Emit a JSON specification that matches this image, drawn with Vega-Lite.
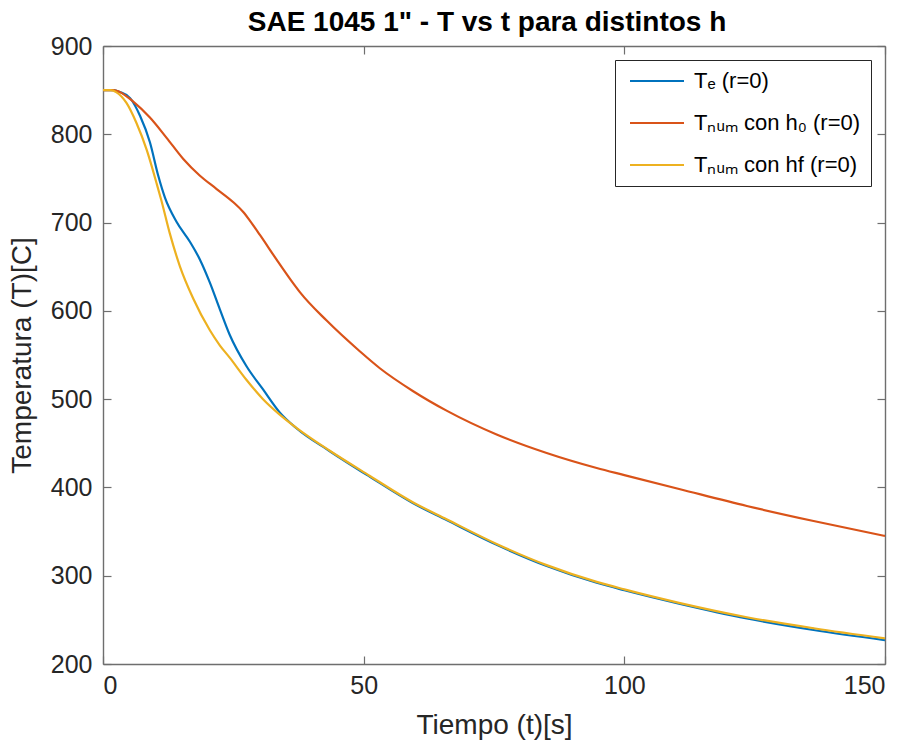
{
  "$schema": "https://vega.github.io/schema/vega-lite/v6.json",
  "width": 782,
  "height": 618,
  "autosize": "none",
  "padding": {"left": 103, "top": 46, "right": 24, "bottom": 83},
  "background": "white",
  "title": {
    "text": "SAE 1045 1\" - T vs t para distintos h",
    "font": "Liberation Sans",
    "fontSize": 28,
    "fontWeight": "bold",
    "color": "#000000",
    "anchor": "middle",
    "offset": -3,
    "dx": -7
  },
  "config": {
    "view": {"stroke": null},
    "axis": {
      "labelFont": "Liberation Sans",
      "titleFont": "Liberation Sans",
      "labelFontSize": 25,
      "titleFontSize": 28,
      "titleFontWeight": "normal",
      "labelColor": "#262626",
      "titleColor": "#262626",
      "domainColor": "#6e6e6e",
      "domainWidth": 1.4,
      "tickColor": "#6e6e6e",
      "tickWidth": 1.2,
      "tickSize": -8,
      "grid": false
    },
    "legend": {
      "labelFont": "Liberation Sans",
      "labelFontSize": 22,
      "labelColor": "#000000"
    }
  },
  "data": {
    "values": [
      {"s": "Tₑ (r=0)", "t": 0, "T": 850},
      {"s": "Tₑ (r=0)", "t": 2, "T": 850},
      {"s": "Tₑ (r=0)", "t": 3.2, "T": 848},
      {"s": "Tₑ (r=0)", "t": 5.2, "T": 841},
      {"s": "Tₑ (r=0)", "t": 7.1, "T": 821},
      {"s": "Tₑ (r=0)", "t": 9.0, "T": 791},
      {"s": "Tₑ (r=0)", "t": 10.6, "T": 753},
      {"s": "Tₑ (r=0)", "t": 11.9, "T": 728},
      {"s": "Tₑ (r=0)", "t": 14.1, "T": 701},
      {"s": "Tₑ (r=0)", "t": 16.7, "T": 678},
      {"s": "Tₑ (r=0)", "t": 18.6, "T": 658},
      {"s": "Tₑ (r=0)", "t": 20.5, "T": 632},
      {"s": "Tₑ (r=0)", "t": 22.4, "T": 602},
      {"s": "Tₑ (r=0)", "t": 24.3, "T": 573},
      {"s": "Tₑ (r=0)", "t": 27.5, "T": 537.5},
      {"s": "Tₑ (r=0)", "t": 30.7, "T": 511},
      {"s": "Tₑ (r=0)", "t": 33.9, "T": 485},
      {"s": "Tₑ (r=0)", "t": 37.1, "T": 467},
      {"s": "Tₑ (r=0)", "t": 43.5, "T": 441},
      {"s": "Tₑ (r=0)", "t": 51.2, "T": 412},
      {"s": "Tₑ (r=0)", "t": 59.5, "T": 382},
      {"s": "Tₑ (r=0)", "t": 65.9, "T": 363},
      {"s": "Tₑ (r=0)", "t": 75.5, "T": 335},
      {"s": "Tₑ (r=0)", "t": 85.1, "T": 311},
      {"s": "Tₑ (r=0)", "t": 94.7, "T": 292},
      {"s": "Tₑ (r=0)", "t": 100, "T": 283.5},
      {"s": "Tₑ (r=0)", "t": 110.7, "T": 268},
      {"s": "Tₑ (r=0)", "t": 123.5, "T": 251.5},
      {"s": "Tₑ (r=0)", "t": 136.3, "T": 238.5},
      {"s": "Tₑ (r=0)", "t": 150, "T": 227},
      {"s": "Tₙᵤₘ con h₀ (r=0)", "t": 0, "T": 850},
      {"s": "Tₙᵤₘ con h₀ (r=0)", "t": 2, "T": 850},
      {"s": "Tₙᵤₘ con h₀ (r=0)", "t": 3.2, "T": 848},
      {"s": "Tₙᵤₘ con h₀ (r=0)", "t": 5.8, "T": 837},
      {"s": "Tₙᵤₘ con h₀ (r=0)", "t": 9.0, "T": 819},
      {"s": "Tₙᵤₘ con h₀ (r=0)", "t": 12.2, "T": 796},
      {"s": "Tₙᵤₘ con h₀ (r=0)", "t": 15.4, "T": 772},
      {"s": "Tₙᵤₘ con h₀ (r=0)", "t": 18.6, "T": 753},
      {"s": "Tₙᵤₘ con h₀ (r=0)", "t": 21.8, "T": 738},
      {"s": "Tₙᵤₘ con h₀ (r=0)", "t": 25.0, "T": 723},
      {"s": "Tₙᵤₘ con h₀ (r=0)", "t": 26.9, "T": 712},
      {"s": "Tₙᵤₘ con h₀ (r=0)", "t": 28.2, "T": 702},
      {"s": "Tₙᵤₘ con h₀ (r=0)", "t": 30.1, "T": 686},
      {"s": "Tₙᵤₘ con h₀ (r=0)", "t": 33.3, "T": 658},
      {"s": "Tₙᵤₘ con h₀ (r=0)", "t": 35.9, "T": 636},
      {"s": "Tₙᵤₘ con h₀ (r=0)", "t": 37.8, "T": 621},
      {"s": "Tₙᵤₘ con h₀ (r=0)", "t": 42.9, "T": 589},
      {"s": "Tₙᵤₘ con h₀ (r=0)", "t": 49.3, "T": 554},
      {"s": "Tₙᵤₘ con h₀ (r=0)", "t": 53.1, "T": 535},
      {"s": "Tₙᵤₘ con h₀ (r=0)", "t": 59.5, "T": 509},
      {"s": "Tₙᵤₘ con h₀ (r=0)", "t": 65.9, "T": 487},
      {"s": "Tₙᵤₘ con h₀ (r=0)", "t": 75.5, "T": 460},
      {"s": "Tₙᵤₘ con h₀ (r=0)", "t": 85.1, "T": 439},
      {"s": "Tₙᵤₘ con h₀ (r=0)", "t": 94.7, "T": 422},
      {"s": "Tₙᵤₘ con h₀ (r=0)", "t": 100, "T": 414},
      {"s": "Tₙᵤₘ con h₀ (r=0)", "t": 110.7, "T": 398},
      {"s": "Tₙᵤₘ con h₀ (r=0)", "t": 123.5, "T": 379},
      {"s": "Tₙᵤₘ con h₀ (r=0)", "t": 136.3, "T": 362},
      {"s": "Tₙᵤₘ con h₀ (r=0)", "t": 150, "T": 345},
      {"s": "Tₙᵤₘ con hf (r=0)", "t": 0, "T": 850},
      {"s": "Tₙᵤₘ con hf (r=0)", "t": 1.5, "T": 850},
      {"s": "Tₙᵤₘ con hf (r=0)", "t": 2.6, "T": 847.5},
      {"s": "Tₙᵤₘ con hf (r=0)", "t": 4.5, "T": 835.5},
      {"s": "Tₙᵤₘ con hf (r=0)", "t": 6.4, "T": 813},
      {"s": "Tₙᵤₘ con hf (r=0)", "t": 8.4, "T": 782},
      {"s": "Tₙᵤₘ con hf (r=0)", "t": 10.3, "T": 744},
      {"s": "Tₙᵤₘ con hf (r=0)", "t": 11.2, "T": 725},
      {"s": "Tₙᵤₘ con hf (r=0)", "t": 12.8, "T": 688},
      {"s": "Tₙᵤₘ con hf (r=0)", "t": 14.75, "T": 650.5},
      {"s": "Tₙᵤₘ con hf (r=0)", "t": 17.3, "T": 614},
      {"s": "Tₙᵤₘ con hf (r=0)", "t": 20.5, "T": 578},
      {"s": "Tₙᵤₘ con hf (r=0)", "t": 22.4, "T": 561},
      {"s": "Tₙᵤₘ con hf (r=0)", "t": 24.3, "T": 547},
      {"s": "Tₙᵤₘ con hf (r=0)", "t": 27.5, "T": 522},
      {"s": "Tₙᵤₘ con hf (r=0)", "t": 30.7, "T": 500},
      {"s": "Tₙᵤₘ con hf (r=0)", "t": 33.9, "T": 482.5},
      {"s": "Tₙᵤₘ con hf (r=0)", "t": 37.1, "T": 467.5},
      {"s": "Tₙᵤₘ con hf (r=0)", "t": 43.5, "T": 441.5},
      {"s": "Tₙᵤₘ con hf (r=0)", "t": 51.2, "T": 413},
      {"s": "Tₙᵤₘ con hf (r=0)", "t": 59.5, "T": 383},
      {"s": "Tₙᵤₘ con hf (r=0)", "t": 65.9, "T": 364},
      {"s": "Tₙᵤₘ con hf (r=0)", "t": 75.5, "T": 336},
      {"s": "Tₙᵤₘ con hf (r=0)", "t": 85.1, "T": 312},
      {"s": "Tₙᵤₘ con hf (r=0)", "t": 94.7, "T": 293},
      {"s": "Tₙᵤₘ con hf (r=0)", "t": 100, "T": 284.5},
      {"s": "Tₙᵤₘ con hf (r=0)", "t": 110.7, "T": 269},
      {"s": "Tₙᵤₘ con hf (r=0)", "t": 123.5, "T": 253},
      {"s": "Tₙᵤₘ con hf (r=0)", "t": 136.3, "T": 240.5},
      {"s": "Tₙᵤₘ con hf (r=0)", "t": 150, "T": 229}
    ]
  },
  "layer": [
    {
      "mark": {"type": "line", "strokeWidth": 2.2, "interpolate": "monotone", "clip": true},
      "encoding": {
        "x": {
          "field": "t", "type": "quantitative",
          "scale": {"domain": [0, 150], "nice": false, "zero": false},
          "axis": {"values": [0, 50, 100, 150], "orient": "bottom", "title": "Tiempo (t)[s]", "labelPadding": 17, "titlePadding": 13}
        },
        "y": {
          "field": "T", "type": "quantitative",
          "scale": {"domain": [200, 900], "nice": false, "zero": false},
          "axis": {"values": [200, 300, 400, 500, 600, 700, 800, 900], "orient": "left", "title": "Temperatura (T)[C]", "labelPadding": 19, "titlePadding": 14}
        },
        "color": {
          "field": "s", "type": "nominal",
          "scale": {
            "domain": ["Tₑ (r=0)", "Tₙᵤₘ con h₀ (r=0)", "Tₙᵤₘ con hf (r=0)"],
            "range": ["#0072BD", "#D95319", "#EDB120"]
          },
          "legend": {
            "title": null,
            "orient": "top-right",
            "offset": 14,
            "strokeColor": "#262626",
            "fillColor": "white",
            "padding": 10,
            "symbolType": "M-1.2,0H9.6",
            "symbolSize": 100,
            "symbolStrokeWidth": 2.2,
            "labelOffset": 47,
            "labelLimit": 400,
            "rowPadding": 20
          }
        }
      }
    },
    {
      "mark": {"type": "line", "opacity": 0},
      "encoding": {
        "detail": {"field": "s", "type": "nominal"},
        "x": {
          "field": "t", "type": "quantitative",
          "axis": {"values": [0, 50, 100, 150], "orient": "top", "labels": false, "title": null}
        },
        "y": {
          "field": "T", "type": "quantitative",
          "axis": {"values": [200, 300, 400, 500, 600, 700, 800, 900], "orient": "right", "labels": false, "title": null}
        }
      }
    }
  ],
  "resolve": {"axis": {"x": "independent", "y": "independent"}}
}
